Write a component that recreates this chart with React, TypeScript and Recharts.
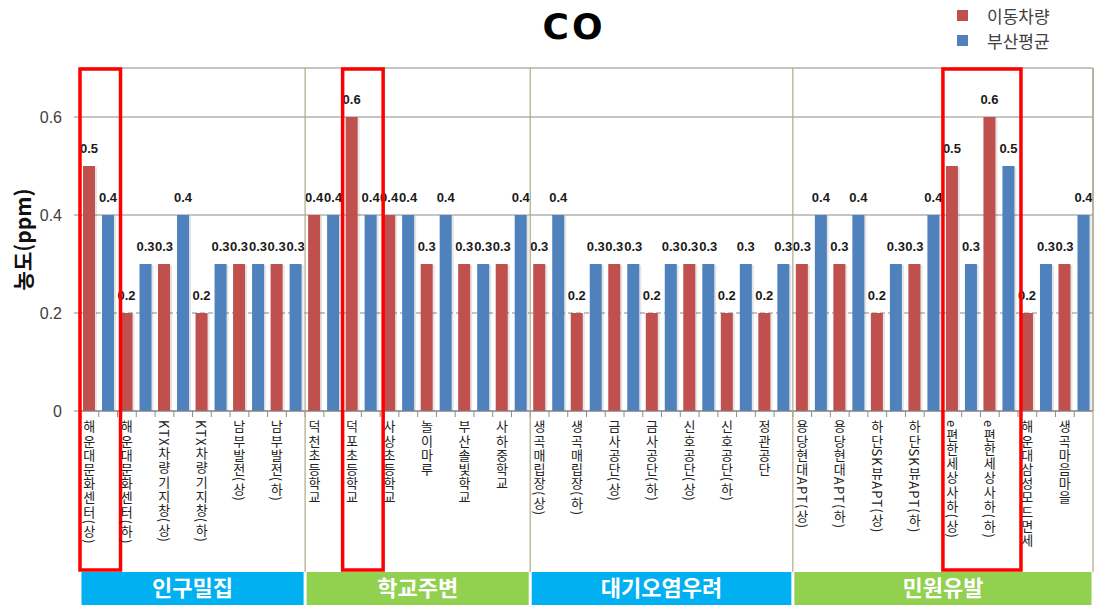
import React from 'react';
import { BarChart, Bar, XAxis, YAxis, CartesianGrid, Legend, LabelList } from 'recharts';

// 측정 지점 (그룹 순서대로)
const sites = [
    '해운대문화센터(상)', '해운대문화센터(하)', 'KTX차량기지창(상)', 'KTX차량기지창(하)', '남부발전(상)', '남부발전(하)',
    '덕천초등학교', '덕포초등학교', '사상초등학교', '놀이마루', '부산솔빛학교', '사하중학교',
    '생곡매립장(상)', '생곡매립장(하)', '금사공단(상)', '금사공단(하)', '신호공단(상)', '신호공단(하)', '정관공단',
    '용당현대APT(상)', '용당현대APT(하)', '하단SK뷰APT(상)', '하단SK뷰APT(하)', 'e편한세상사하(상)', 'e편한세상사하(하)',
    '해운대삼성모드면세', '생곡마음마을',
];

// 이동차량 측정값 (ppm)
const carValues = [
    0.5, 0.2, 0.3, 0.2, 0.3, 0.3,
    0.4, 0.6, 0.4, 0.3, 0.3, 0.3,
    0.3, 0.2, 0.3, 0.2, 0.3, 0.2, 0.2,
    0.3, 0.3, 0.2, 0.3, 0.5, 0.6, 0.2, 0.3,
];

// 부산평균 (ppm)
const busanAvg = [
    0.4, 0.3, 0.4, 0.3, 0.3, 0.3,
    0.4, 0.4, 0.4, 0.4, 0.3, 0.4,
    0.4, 0.3, 0.3, 0.3, 0.3, 0.3, 0.3,
    0.4, 0.4, 0.3, 0.4, 0.3, 0.5, 0.3, 0.4,
];

const groupNames = ['인구밀집', '학교주변', '대기오염우려', '민원유발'];
const groupSizes = [6, 6, 7, 8];
const groupColors = ['#00b0f0', '#92d050', '#00b0f0', '#92d050'];

// 붉은 테두리로 강조할 지점
const highlighted = ['해운대문화센터(상)', '덕포초등학교', 'e편한세상사하(상)', 'e편한세상사하(하)'];

const seriesNames = ['이동차량', '부산평균'];
const seriesColors = ['#c0504d', '#4f81bd'];
const yTicks = [0, 0.2, 0.4, 0.6];
const yMax = 0.7;

// layout
const W = 1099;
const H = 605;
const PLOT_TOP = 68;
const PLOT_LEFT = 80;
const PLOT_RIGHT = 1093;
const X_AXIS_H = 194;
const PLOT_BOTTOM = H - X_AXIS_H;
const PLOT_W = PLOT_RIGHT - PLOT_LEFT;
const PLOT_H = PLOT_BOTTOM - PLOT_TOP;
const BAND = PLOT_W / sites.length;
const STRIP_TOP = 572;
const BAR = 12;
const GAP = 7;

const data = sites.map((name, i) => ({ name, car: carValues[i], avg: busanAvg[i] }));

// first index of each group
const groupStarts = groupSizes.map((_, g) => groupSizes.slice(0, g).reduce((a, b) => a + b, 0));

const ShadowBar = (props: any) => {
    const { x, y, width, height, fill } = props;
    if (!height) return null;
    return (
        <g>
            <rect x={x + 2} y={y + 1} width={width} height={height - 1} fill="#000" fillOpacity={0.1} />
            <rect x={x} y={y} width={width} height={height} fill={fill} />
        </g>
    );
};

const SiteTick = (props: any) => {
    const { x, y, payload } = props;
    const i = sites.indexOf(payload.value);
    const start = x - BAND / 2;
    const g = groupStarts.indexOf(i);
    const isHi = highlighted.includes(payload.value);
    let run = 0;
    if (isHi && (i === 0 || !highlighted.includes(sites[i - 1]))) {
        while (i + run < sites.length && highlighted.includes(sites[i + run])) run++;
    }
    return (
        <g>
            {i === 0 && (
                <defs>
                    <clipPath id="siteLabelClip">
                        <rect x={0} y={0} width={W} height={STRIP_TOP - 2} />
                    </clipPath>
                </defs>
            )}
            <line x1={start} x2={start} y1={y} y2={y + 6} stroke="#8c8c8c" />
            <line x1={x} x2={x} y1={y} y2={y + 6} stroke="#8c8c8c" />
            <text
                x={x - (BAR + GAP) / 2}
                y={y + 9}
                fill="#222"
                fontSize={13}
                letterSpacing={1.2}
                fontFamily="'Noto Sans CJK KR', sans-serif"
                clipPath="url(#siteLabelClip)"
                style={{ writingMode: 'vertical-rl', textOrientation: 'mixed' } as any}
            >
                {payload.value}
            </text>
            {g > 0 && (
                <line x1={start} x2={start} y1={PLOT_TOP} y2={STRIP_TOP} stroke="#b0a888" strokeWidth={1.2} />
            )}
            {i === sites.length - 1 && (
                <line x1={start + BAND} x2={start + BAND} y1={PLOT_TOP} y2={STRIP_TOP} stroke="#b0a888" strokeWidth={1.2} />
            )}
            {g >= 0 && (
                <g>
                    <rect
                        x={start + 1.5}
                        y={STRIP_TOP}
                        width={groupSizes[g] * BAND - 3}
                        height={H - STRIP_TOP}
                        fill={groupColors[g]}
                    />
                    <text
                        x={start + (groupSizes[g] * BAND) / 2}
                        y={STRIP_TOP + 24}
                        textAnchor="middle"
                        fill="#fff"
                        fontSize={22}
                        fontWeight="bold"
                        fontFamily="'Noto Sans CJK KR', sans-serif"
                    >
                        {groupNames[g]}
                    </text>
                </g>
            )}
            {run > 0 && (
                <rect
                    x={start}
                    y={PLOT_TOP + 1}
                    width={run * BAND + 3}
                    height={STRIP_TOP - PLOT_TOP - 3}
                    fill="none"
                    stroke="#ff0000"
                    strokeWidth={3.5}
                />
            )}
        </g>
    );
};

// 0.2 line is dashed, the others solid
const GridLine = (props: any) => {
    const { x1, x2, y1, y2 } = props;
    const dashedY = PLOT_BOTTOM - (0.2 / yMax) * PLOT_H;
    const dashed = Math.abs(y1 - dashedY) < 2;
    return (
        <line
            x1={x1}
            x2={x2}
            y1={y1}
            y2={y2}
            stroke="#8a8a8a"
            strokeWidth={1}
            strokeDasharray={dashed ? '5 3' : undefined}
        />
    );
};

const renderLegend = (props: any) => {
    const items = [...props.payload].sort(
        (a: any, b: any) => seriesNames.indexOf(a.value) - seriesNames.indexOf(b.value)
    );
    return (
        <div style={{ fontFamily: "'Noto Sans CJK KR', sans-serif", fontSize: 17, color: '#404040', lineHeight: '25px' }}>
            {items.map((entry: any) => (
                <div key={entry.value} style={{ display: 'flex', alignItems: 'center', height: 25 }}>
                    <span style={{ display: 'inline-block', width: 11, height: 11, background: entry.color, marginRight: 19 }} />
                    {entry.value}
                </div>
            ))}
        </div>
    );
};

const App: React.FC = () => {
    return (
        <div style={{ position: 'absolute', left: 0, top: 0, width: W, height: H, background: '#fff' }}>
            <div style={{
                position: 'absolute',
                left: 574,
                top: 26,
                transform: 'translate(-50%, -50%)',
                fontFamily: "'DejaVu Sans', sans-serif",
                fontWeight: 'bold',
                fontSize: 36,
                letterSpacing: 3,
                color: '#000',
                zIndex: 2,
            }}>
                CO
            </div>
            <BarChart
                width={W}
                height={H}
                data={data}
                margin={{ top: PLOT_TOP, right: 0, bottom: 0, left: 0 }}
                barSize={BAR}
                barGap={GAP}
            >
                <CartesianGrid vertical={false} horizontal={GridLine} />
                <YAxis
                    domain={[0, yMax]}
                    ticks={yTicks}
                    width={PLOT_LEFT}
                    tickSize={6}
                    tickMargin={12}
                    tickLine={{ stroke: '#8a8a8a' }}
                    axisLine={{ stroke: '#7f7f7f' }}
                    tick={{ fill: '#404040', fontSize: 16, fontFamily: "'Liberation Sans', sans-serif" }}
                    label={{
                        content: (p: any) => {
                            const cx = p.viewBox.x + 22;
                            const cy = p.viewBox.y + p.viewBox.height / 2;
                            return (
                                <text
                                    x={cx}
                                    y={cy}
                                    transform={`rotate(-90 ${cx} ${cy})`}
                                    textAnchor="middle"
                                    dominantBaseline="central"
                                    fontSize={21}
                                    fontWeight="bold"
                                    fill="#111"
                                    fontFamily="'Noto Sans CJK KR', sans-serif"
                                >
                                    농도(ppm)
                                </text>
                            );
                        },
                    }}
                />
                <YAxis
                    yAxisId="right"
                    orientation="right"
                    width={W - PLOT_RIGHT}
                    domain={[0, yMax]}
                    tick={false}
                    tickLine={false}
                    axisLine={{ stroke: '#8a8a8a' }}
                />
                <Legend
                    layout="vertical"
                    align="center"
                    verticalAlign="middle"
                    wrapperStyle={{ top: 3, left: 957, width: 'auto' }}
                    content={renderLegend}
                />
                <Bar dataKey="car" name={seriesNames[0]} fill={seriesColors[0]} shape={ShadowBar} isAnimationActive={false}>
                    <LabelList
                        dataKey="car"
                        position="top"
                        offset={13}
                        fill="#1a1a1a"
                        fontSize={13}
                        fontWeight="bold"
                        fontFamily="'Liberation Sans', sans-serif"
                    />
                </Bar>
                <Bar dataKey="avg" name={seriesNames[1]} fill={seriesColors[1]} shape={ShadowBar} isAnimationActive={false}>
                    <LabelList
                        dataKey="avg"
                        position="top"
                        offset={13}
                        fill="#1a1a1a"
                        fontSize={13}
                        fontWeight="bold"
                        fontFamily="'Liberation Sans', sans-serif"
                    />
                </Bar>
                <XAxis
                    xAxisId="top"
                    orientation="top"
                    dataKey="name"
                    height={0}
                    tick={false}
                    tickLine={false}
                    axisLine={{ stroke: '#000' }}
                />
                <XAxis
                    dataKey="name"
                    height={X_AXIS_H}
                    interval={0}
                    tickSize={0}
                    tickMargin={0}
                    tickLine={false}
                    axisLine={{ stroke: '#7f7f7f' }}
                    tick={SiteTick}
                />
            </BarChart>
        </div>
    );
};

export default App;
